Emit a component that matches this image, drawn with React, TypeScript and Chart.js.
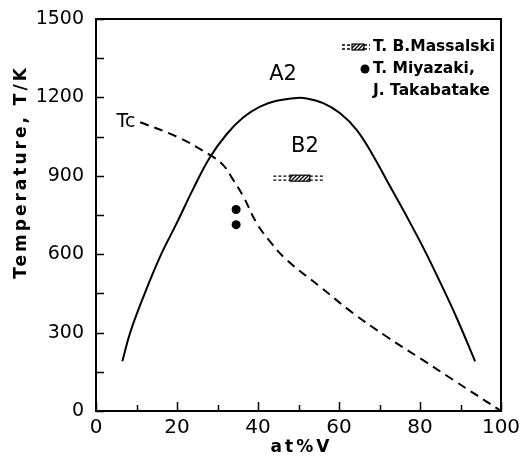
import React, { useEffect, useRef } from 'react';
import { Chart, registerables } from 'chart.js';

Chart.register(...registerables);

// ---- data ----
const xTickLabels = [0, 20, 40, 60, 80, 100];
const yTickLabels = [0, 300, 600, 900, 1200, 1500];

// A2 / B2 order-disorder boundary (solid)
const boundaryX = [6.5, 8.4, 11.7, 15.8, 19.9, 24.0, 28.1, 32.3, 36.4, 40.5, 44.6, 49.6, 52.0, 56.1, 60.2, 64.4, 68.5, 72.6, 76.7, 80.8, 84.9, 89.1, 93.6];
const boundaryT = [190, 298, 437, 590, 718, 850, 970, 1060, 1124, 1165, 1187, 1198, 1196, 1178, 1140, 1075, 975, 860, 745, 625, 495, 355, 190];

// Curie temperature Tc (dashed)
const tcX = [10.9, 19.9, 28.1, 31.4, 33.9, 36.4, 39.7, 43.0, 47.1, 55.3, 63.5, 71.8, 80.0, 88.2, 100];
const tcT = [1105, 1050, 980, 941, 884, 820, 718, 648, 578, 476, 374, 284, 202, 119, 0];

// T. Miyazaki, J. Takabatake (dots)
const miyazakiX = [34.6, 34.6];
const miyazakiT = [771, 713];

// T. B. Massalski (range symbol)
const massalskiRangeX = [43.8, 56.0];
const massalskiHatchX = [47.9, 52.8];
const massalskiT = 891;

// region labels
const regionLabels = ['A2', 'B2', 'Tc'];
const regionLabelX = [46.2, 51.6, 7.4];
const regionLabelT = [1286, 1011, 1106];

const legendLabels = ['T. B.Massalski', 'T. Miyazaki,', 'J. Takabatake'];

const FONT = '"DejaVu Sans", "Liberation Sans", sans-serif';

export default function App() {
  const ref = useRef<HTMLCanvasElement>(null);

  useEffect(() => {
    document.body.style.margin = '0';
    const canvas = ref.current!;

    const pc = document.createElement('canvas');
    pc.width = 4;
    pc.height = 4;
    const g = pc.getContext('2d')!;
    g.fillStyle = '#fff';
    g.fillRect(0, 0, 4, 4);
    g.strokeStyle = '#000';
    g.lineWidth = 1.3;
    g.beginPath();
    g.moveTo(0, 4); g.lineTo(4, 0);
    g.moveTo(-1, 1); g.lineTo(1, -1);
    g.moveTo(3, 5); g.lineTo(5, 3);
    g.stroke();
    const hatch = canvas.getContext('2d')!.createPattern(pc, 'repeat')!;

    const drawMassalskiSymbol = (ctx: CanvasRenderingContext2D, x0: number, x1: number, h0: number, h1: number, y: number) => {
      ctx.save();
      ctx.strokeStyle = '#000';
      ctx.lineWidth = 1.3;
      ctx.setLineDash([3, 2]);
      for (const dy of [-2, 2]) {
        ctx.beginPath();
        ctx.moveTo(x0, y + dy);
        ctx.lineTo(h0, y + dy);
        ctx.moveTo(h1, y + dy);
        ctx.lineTo(x1, y + dy);
        ctx.stroke();
      }
      ctx.setLineDash([]);
      ctx.fillStyle = hatch;
      ctx.fillRect(h0, y - 3, h1 - h0, 6);
      ctx.lineWidth = 1.2;
      ctx.strokeRect(h0, y - 3, h1 - h0, 6);
      ctx.restore();
    };

    const decor = {
      id: 'decor',
      afterDraw(chart: any) {
        const ctx: CanvasRenderingContext2D = chart.ctx;
        const { left, right, top, bottom } = chart.chartArea;
        const xs = chart.scales.x;
        const ys = chart.scales.y;
        ctx.save();
        ctx.strokeStyle = '#000';
        ctx.fillStyle = '#000';
        // frame
        ctx.lineWidth = 2;
        ctx.strokeRect(left, top, right - left, bottom - top);
        // inside ticks
        ctx.lineWidth = 1.5;
        ctx.beginPath();
        for (const t of ys.ticks) {
          const py = Math.round(ys.getPixelForValue(t.value)) + 0.5;
          ctx.moveTo(left, py);
          ctx.lineTo(left + 8, py);
        }
        for (const t of xs.ticks) {
          const px = Math.round(xs.getPixelForValue(t.value)) + 0.5;
          const len = t.value % 20 === 0 ? 9 : 6;
          ctx.moveTo(px, bottom);
          ctx.lineTo(px, bottom - len);
        }
        ctx.stroke();

        // Massalski range symbol on the plot
        const mx0 = xs.getPixelForValue(massalskiRangeX[0]);
        const mx1 = xs.getPixelForValue(massalskiRangeX[1]);
        const mh0 = xs.getPixelForValue(massalskiHatchX[0]);
        const mh1 = xs.getPixelForValue(massalskiHatchX[1]);
        const my = ys.getPixelForValue(massalskiT);
        drawMassalskiSymbol(ctx, mx0, mx1, mh0, mh1, my);

        // region labels
        ctx.textAlign = 'center';
        ctx.textBaseline = 'middle';
        regionLabels.forEach((s, i) => {
          ctx.font = (s === 'Tc' ? '19px ' : '21px ') + FONT;
          ctx.fillText(s, xs.getPixelForValue(regionLabelX[i]), ys.getPixelForValue(regionLabelT[i]));
        });

        // legend
        const lx = right - 128;
        const ly = top + 28;
        drawMassalskiSymbol(ctx, lx - 31, lx - 3, lx - 21, lx - 9, ly);
        ctx.beginPath();
        ctx.arc(lx - 8, ly + 22, 4.5, 0, Math.PI * 2);
        ctx.fill();
        ctx.font = 'bold 15.5px ' + FONT;
        ctx.textAlign = 'left';
        legendLabels.forEach((s, i) => {
          ctx.fillText(s, lx, ly + i * 22);
        });

        // axis titles
        const anyCtx = ctx as any;
        anyCtx.letterSpacing = '3px';
        ctx.font = 'bold 17px ' + FONT;
        ctx.textAlign = 'center';
        ctx.fillText('at%V', (left + right) / 2 + 3, 448);
        ctx.save();
        ctx.translate(22, 172);
        ctx.rotate(-Math.PI / 2);
        anyCtx.letterSpacing = '3px';
        ctx.fillText('Temperature, T/K', 0, 0);
        ctx.restore();
        anyCtx.letterSpacing = '0px';
        ctx.restore();
      },
    };

    const chart = new Chart(canvas, {
      type: 'line',
      data: {
        datasets: [
          {
            label: 'A2/B2',
            data: boundaryX.map((x, i) => ({ x, y: boundaryT[i] })),
            borderColor: '#000',
            borderWidth: 2,
            pointRadius: 0,
            tension: 0.4,
          },
          {
            label: 'Tc',
            data: tcX.map((x, i) => ({ x, y: tcT[i] })),
            borderColor: '#000',
            borderWidth: 2,
            borderDash: [9, 6],
            pointRadius: 0,
            tension: 0.4,
          },
          {
            label: 'T. Miyazaki, J. Takabatake',
            data: miyazakiX.map((x, i) => ({ x, y: miyazakiT[i] })),
            showLine: false,
            pointRadius: 4.5,
            pointBackgroundColor: '#000',
            pointBorderColor: '#000',
            pointBorderWidth: 0,
          },
        ],
      },
      options: {
        animation: false,
        responsive: false,
        events: [],
        layout: { padding: { top: 19, right: 25, left: 0, bottom: 0 } },
        plugins: { legend: { display: false }, tooltip: { enabled: false } },
        scales: {
          x: {
            type: 'linear',
            min: 0,
            max: 100,
            grid: { display: false },
            border: { display: false },
            ticks: {
              stepSize: 10,
              autoSkip: false,
              maxRotation: 0,
              color: '#000',
              padding: -3,
              font: { family: FONT, size: 20 },
              callback: (v: any) => (v % 20 === 0 ? String(v) : ''),
            },
            afterFit: (s: any) => {
              s.height = 52;
              s.paddingLeft = 0;
              s.paddingRight = 0;
            },
          },
          y: {
            type: 'linear',
            min: 0,
            max: 1500,
            grid: { display: false },
            border: { display: false },
            ticks: {
              stepSize: 150,
              autoSkip: false,
              color: '#000',
              padding: 4,
              font: { family: FONT, size: 19 },
              callback: (v: any) => (v % 300 === 0 ? String(v) : ''),
            },
            afterFit: (s: any) => {
              s.width = 96;
              s.paddingTop = 0;
              s.paddingBottom = 0;
            },
          },
        },
      },
      plugins: [decor],
    });

    return () => chart.destroy();
  }, []);

  return (
    <div style={{ position: 'fixed', left: 0, top: 0, width: 526, height: 463, background: '#fff' }}>
      <canvas ref={ref} width={526} height={463} />
    </div>
  );
}
